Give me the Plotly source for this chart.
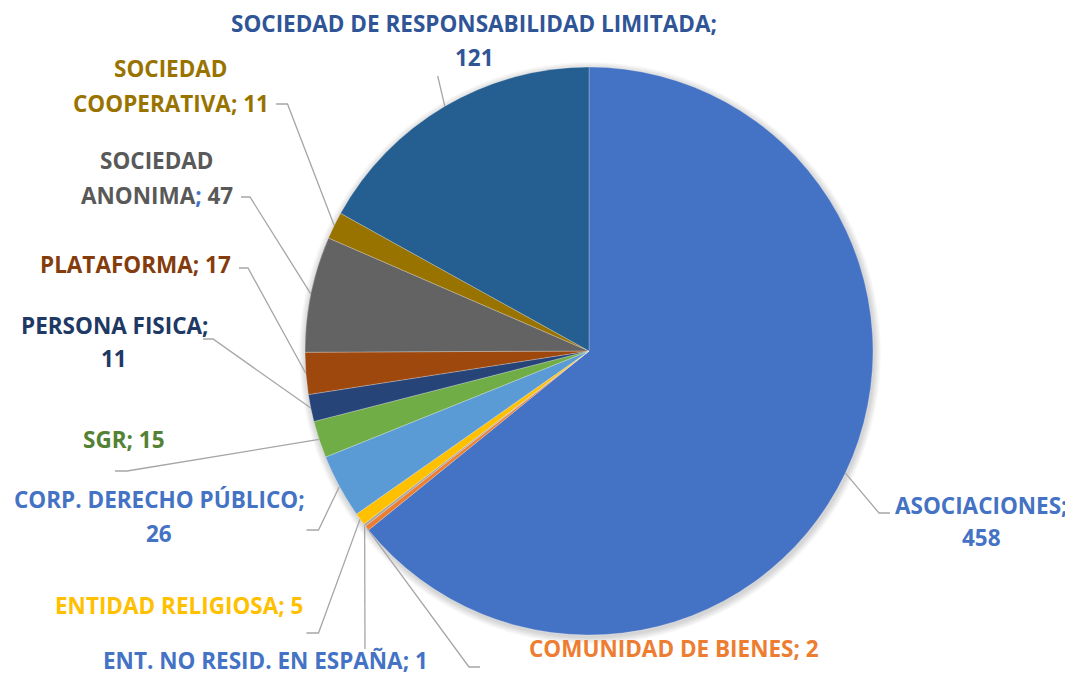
import math
import plotly.graph_objects as go

W, H = 1073, 676
OFF = 8  # page body margin of the html page

categories = [
    "ASOCIACIONES",
    "COMUNIDAD DE BIENES",
    "ENT. NO RESID. EN ESPAÑA",
    "ENTIDAD RELIGIOSA",
    "CORP. DERECHO PÚBLICO",
    "SGR",
    "PERSONA FISICA",
    "PLATAFORMA",
    "SOCIEDAD ANONIMA",
    "SOCIEDAD COOPERATIVA",
    "SOCIEDAD DE RESPONSABILIDAD LIMITADA",
]
values = [458, 2, 1, 5, 26, 15, 11, 17, 47, 11, 121]

slice_colors = ["#4472C4", "#ED7D31", "#A5A5A5", "#FFC000", "#5B9BD5", "#70AD47",
                "#264478", "#9E480E", "#636363", "#997300", "#255E91"]
text_colors = ["#4472C4", "#ED7D31", "#4472C4", "#FFC000", "#4472C4", "#548235",
               "#203864", "#843C0C", "#595959", "#997300", "#2F5597"]
semicolon_colors = [None, None, None, None, None, None, None, None, "#4472C4", None, None]
# number of words on first line (None = single line)
wrap_after = [1, None, None, None, 3, None, 2, None, 1, 1, 4]

# ---- layout constants (page pixel positions) ----
CX, CY, R = 589, 351, 284
label_x = [981, 674, 265, 179, 159, 124, 114, 135, 157, 171, 474]
label_y = [[505, 537], [648], [660], [605], [499, 533], [439], [325, 358], [264],
           [160, 195], [68, 103], [23, 57]]
# leader: elbow point then optional stub end x
leader_elbow = [(879, 513), (469, 667), (365, 649), (318.5, 633), (318.5, 530),
                (127, 471), (213, 339), (248, 268), (250, 197), (287.5, 104), (437.7, 76)]
leader_stub = [890, 480, None, 306.5, 306.5, 115, 203, 239, 241, 276, None]

FONT = "Open Sans"
FS = 22.5

FW, FH = W - OFF, H - OFF  # figure size so that the page fits the window

fig = go.Figure()

fig.add_trace(go.Pie(
    labels=categories, values=values, sort=False, direction="clockwise", rotation=0,
    marker=dict(colors=slice_colors, line=dict(color="rgba(255,255,255,0.5)", width=0.5)),
    textinfo="none", hoverinfo="label+value", showlegend=False,
    domain=dict(x=[(CX - R - OFF) / FW, (CX + R - OFF) / FW],
                y=[1 - (CY + R - OFF) / FH, 1 - (CY - R - OFF) / FH]),
))

total = sum(values)
cum = 0
for i, v in enumerate(values):
    mid = (cum + v / 2) / total * 2 * math.pi
    cum += v
    ex = CX + R * math.sin(mid)
    ey = CY - R * math.cos(mid)
    xs = [ex, leader_elbow[i][0]]
    ys = [ey, leader_elbow[i][1]]
    if leader_stub[i] is not None:
        xs.append(leader_stub[i])
        ys.append(leader_elbow[i][1])
    fig.add_trace(go.Scatter(x=xs, y=ys, mode="lines", line=dict(color="#A6A6A6", width=1.3),
                             hoverinfo="skip", showlegend=False, xaxis="x", yaxis="y"))

# soft shadow behind the pie
shapes = []
for k in range(1, 8):
    shapes.append(dict(type="circle", xref="x", yref="y", layer="below",
                       x0=CX + 1 - R - k, x1=CX + 1 + R + k, y0=CY + 2 - R - k, y1=CY + 2 + R + k,
                       fillcolor="rgba(0,0,0,0.022)", line=dict(width=0)))

annotations = []
for i, (c, v) in enumerate(zip(categories, values)):
    words = f"{c}; {v}".split(" ")
    if wrap_after[i] is None:
        lines = [" ".join(words)]
    else:
        lines = [" ".join(words[:wrap_after[i]]), " ".join(words[wrap_after[i]:])]
    for j, ln in enumerate(lines):
        if semicolon_colors[i]:
            ln = ln.replace(";", f"<span style='color:{semicolon_colors[i]}'>;</span>")
        annotations.append(dict(
            x=label_x[i], y=label_y[i][j], xref="x", yref="y", text=f"<b>{ln}</b>",
            showarrow=False, xanchor="center", yanchor="middle",
            font=dict(family=FONT, size=FS, color=text_colors[i]),
        ))

fig.update_layout(
    width=FW, height=FH, margin=dict(l=0, r=0, t=0, b=0),
    paper_bgcolor="white", plot_bgcolor="rgba(0,0,0,0)",
    xaxis=dict(range=[OFF, W], visible=False, fixedrange=True, domain=[0, 1]),
    yaxis=dict(range=[H, OFF], visible=False, fixedrange=True, domain=[0, 1]),
    annotations=annotations, shapes=shapes,
)

fig.write_html("out.html")
